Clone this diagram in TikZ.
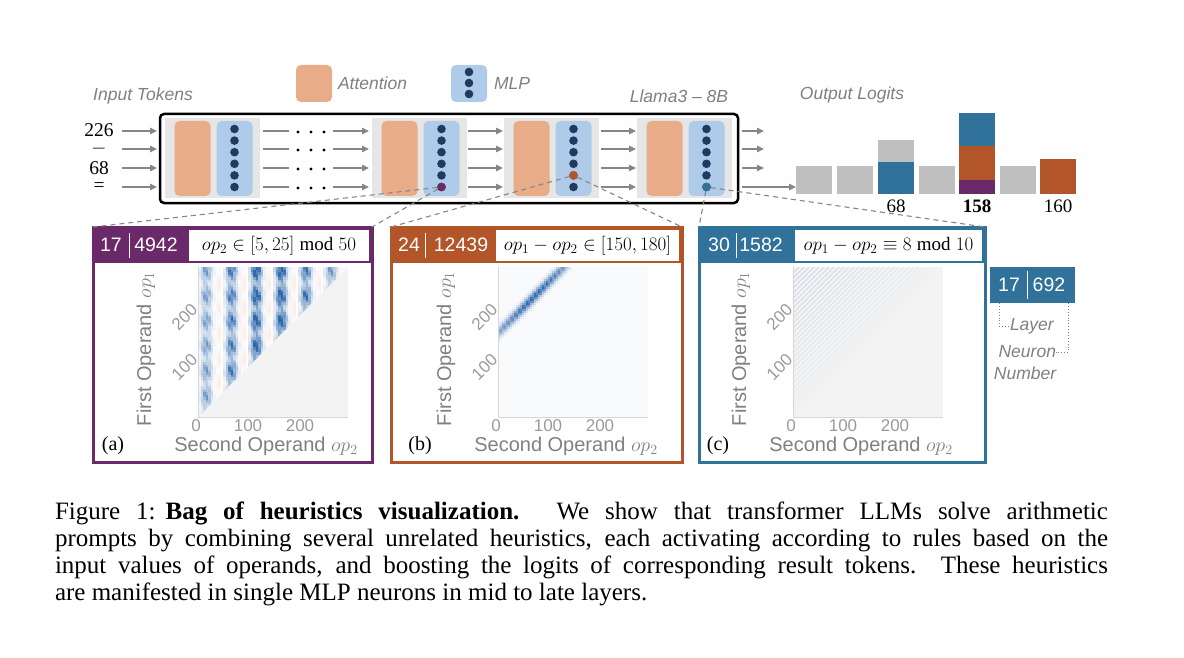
\RequirePackage{fix-cm}
\documentclass[tikz,border=0pt]{standalone}
\usepackage{fontspec}
\setmainfont{Liberation Serif}
\newfontfamily\arial{Liberation Sans}
\usetikzlibrary{arrows.meta,fit}
\definecolor{attn}{HTML}{E8AC88}
\definecolor{mlp}{HTML}{AFCBEA}
\definecolor{dotc}{HTML}{203A60}
\definecolor{blk}{HTML}{E6E6E6}
\definecolor{arr}{HTML}{868686}
\definecolor{lbl}{HTML}{808080}
\definecolor{tkc}{HTML}{9A9A9A}
\definecolor{pur}{HTML}{6A2A6A}
\definecolor{org}{HTML}{B25528}
\definecolor{blu}{HTML}{31729B}
\definecolor{barg}{HTML}{BFBFBF}
\definecolor{hmb}{RGB}{28,92,165}
\definecolor{hmo}{RGB}{235,160,130}
\definecolor{pgray}{HTML}{F3F3F3}
\definecolor{pbg}{HTML}{F9FAFB}
\definecolor{axc}{HTML}{D6D6D6}
\tikzset{
  bx/.style={inner sep=0pt, outer sep=0pt},
  lab/.style={bx, font=\arial\itshape\fontsize{17.5}{20}\selectfont, text=lbl},
  arw/.style={draw=arr, line width=1.4pt, -{Triangle[length=7pt,width=6.5pt]}},
  dsh/.style={draw=arr, line width=1.1pt, dash pattern=on 5pt off 4pt},
  tok/.style={bx, font=\fontsize{19.5}{22}\selectfont},
  outl/.style={bx, font=\fontsize{19}{22}\selectfont},
  hdr/.style={bx, text=white, font=\arial\fontsize{19.5}{22}\selectfont},
  fml/.style={bx, font=\fontsize{19}{22}\selectfont},
  tick/.style={bx, text=tkc, font=\arial\fontsize{17}{20}\selectfont},
  axl/.style={bx, text=lbl, font=\arial\fontsize{20}{24}\selectfont},
  plab/.style={bx, font=\fontsize{20}{24}\selectfont},
  capl/.style={bx, anchor=base west, font=\fontsize{25}{27}\selectfont},
  sep/.style={white, line width=0.8pt},
  brk/.style={lbl, dotted, line width=0.9pt}
}
\newcommand\layerblk[2]{%
  \node[bx, fill=blk, fit={(#2,118)(#2+95,198)}] (#1) {};
  \node[bx, fill=attn, rounded corners=5pt, fit={(#2+9.5,121)(#2+45.5,196)}] (#1a) {};
  \node[bx, fill=mlp, rounded corners=5pt, fit={(#2+51.5,121)(#2+87.5,196)}] (#1m) {};
  \foreach \i in {0,...,5} \fill[dotc] (#2+69.5,129+11.6*\i) circle[radius=4.3pt];
}
\newcommand\plotaxes[1]{%
  \draw[axc, line width=0.9pt] (#1,267) -- (#1,417) -- (#1+150,417);
  \node[tick] at (#1-2,426) {0};
  \node[tick] at (#1+50,426) {100};
  \node[tick] at (#1+102,426) {200};
  \node[tick, rotate=45] at (#1-13.5,367) {100};
  \node[tick, rotate=45] at (#1-13.5,317) {200};
  \node[axl, rotate=90] at (#1-52,349) {First Operand $op_1$};
  \node[axl] at (#1+68,446) {Second Operand $op_2$};
}
\newcommand\capline[1]{\hbox to 1053pt{#1}}
\begin{document}
\begin{tikzpicture}[x=1pt,y=-1pt]
\useasboundingbox (0,0) rectangle (1184,658);

% ---------- top labels and legend
\node[lab] (inlab) at (143,96) {Input Tokens};
\node[bx, fill=attn, rounded corners=5pt, fit={(296,65)(332,102)}] (legA) {};
\node[lab, anchor=west] (legAt) at (338,83) {Attention};
\node[bx, fill=mlp, rounded corners=5pt, fit={(451,65)(487,102)}] (legM) {};
\foreach \yy in {72,83,94} \fill[dotc] (469,\yy) circle[radius=4.3pt];
\node[lab, anchor=west] (legMt) at (494,83) {MLP};
\node[lab] (llama) at (679,96) {Llama3 – 8B};
\node[lab] (outlab) at (852,95) {Output Logits};

% ---------- model
\node[bx, draw=black, line width=2.5pt, rounded corners=4pt, fit={(160,114)(738,203)}] (llm) {};
\layerblk{L1}{165}
\layerblk{L2}{372}
\layerblk{L3}{504}
\layerblk{L4}{637}
\node[circle, bx, fill=pur, minimum size=8.6pt] (d2) at (441.5,187) {};
\node[circle, bx, fill=org, minimum size=8.6pt] (d3) at (573.5,175.4) {};
\node[circle, bx, fill=blu, minimum size=8.6pt] (d4) at (706.5,187) {};

% ---------- input tokens
\node[tok] (t1) at (99,130) {226};
\node[tok] (t2) at (99,149) {$-$};
\node[tok] (t3) at (99,168) {68};
\node[tok] (t4) at (99,187) {=};
\foreach \yy in {131,149,168,187} {
  \draw[arw] (122,\yy) -- (157,\yy);
  \draw[arr, line width=1.4pt] (263,\yy) -- (289,\yy);
  \foreach \xx in {298,311,324} \fill (\xx,\yy+1) circle[radius=1.6pt];
  \draw[arw] (333,\yy) -- (369,\yy);
  \draw[arw] (468,\yy) -- (503,\yy);
  \draw[arw] (601,\yy) -- (636,\yy);
}
\foreach \yy in {131,149,168} \draw[arw] (742,\yy) -- (764,\yy);

% ---------- output logits
\node[bx, fill=barg, fit={(796,166)(832,194)}] (b1) {};
\node[bx, fill=barg, fit={(837,166)(873,194)}] (b2) {};
\node[bx, fill=barg, fit={(878,140)(914,162)}] (b3g) {};
\node[bx, fill=blu, fit={(878,162)(914,194)}] (b3) {};
\node[bx, fill=barg, fit={(919,166)(955,194)}] (b4) {};
\node[bx, fill=pur, fit={(959,180)(995,194)}] (b5p) {};
\node[bx, fill=org, fit={(959,146)(995,180)}] (b5o) {};
\node[bx, fill=blu, fit={(959,113)(995,146)}] (b5b) {};
\node[bx, fill=barg, fit={(1000,166)(1036,194)}] (b6) {};
\node[bx, fill=org, fit={(1040,159)(1076,194)}] (b7) {};
\draw[arw] (742,187) -- (b1.west |- 0,187);
\node[outl] (o68) at (896,206) {68};
\node[outl] (o158) at (977,206) {\textbf{158}};
\node[outl] (o160) at (1058,206) {160};

% ---------- panel (a)
\fill[pur] (93,227) rectangle (372,263);
\node[bx, fill=white, fit={(189,230)(369,261)}] (fa) {};
\node[fml] at (fa) {$op_2 \in [5,25] \bmod 50$};
\node[hdr] (la) at (111,245) {17};
\node[hdr] (na) at (156,245) {4942};
\draw[sep] (129,233) -- (129,258);
\begin{scope}[shift={(198,417)}, x=0.5pt, y=0.5pt]
  \fill[white] (0,0) rectangle (300,300);
  \fill[pgray] (0,0) -- (300,0) -- (300,300) -- cycle;
  \begin{scope}
    \clip (0,0) -- (0,300) -- (300,300) -- cycle;
    \foreach \cx in {0,5,...,295}{\foreach \cy in {0,5,...,295}{
      \ifnum\numexpr\cy+5\relax>\cx\relax
        \pgfmathsetmacro\hmu{mod(\cx+2.5,50)}
        \pgfmathsetmacro\hmd{abs(\hmu-16)}
        \pgfmathsetmacro\hms{exp(0-((\hmd/11)^2))}
        \pgfmathsetmacro\hmm{0.45+0.55*(0.5+0.5*cos(7.2*(\cy-40)))}
        \pgfmathsetmacro\hmf{0.75+0.25*cos(1.2*(\cx-140))}
        \pgfmathsetmacro\hmr{0.8+0.2*sin(13*\cy+23*\cx)}
        \pgfmathtruncatemacro\hmI{min(92,135*\hms*\hmm*\hmr*\hmf)}
        \pgfmathsetmacro\hmod{abs(\hmu-41)}
        \pgfmathtruncatemacro\hmO{20*exp(0-((\hmod/5)^2))*(0.4+0.6*(0.5+0.5*cos(7.2*(\cy-15))))}
        \colorlet{tmpo}{hmo!\hmO!white}
        \fill[hmb!\hmI!tmpo] (\cx,\cy) rectangle +(5.3,5.3);
      \fi
    }}
  \end{scope}
\end{scope}
\plotaxes{198}
\node[plab] (pla) at (113,446) {(a)};
\node[bx, draw=pur, line width=3pt, fit={(93,227)(372,462)}] (pa) {};

% ---------- panel (b)
\fill[org] (391,227) rectangle (682,263);
\node[bx, fill=white, fit={(496,230)(679,261)}] (fb) {};
\node[fml] at (fb) {$op_1 - op_2 \in [150, 180]$};
\node[hdr] (lb) at (409,245) {24};
\node[hdr] (nb) at (461,245) {12439};
\draw[sep] (425,233) -- (425,258);
\begin{scope}[shift={(498,417)}, x=0.5pt, y=0.5pt]
  \fill[pbg] (0,0) rectangle (300,300);
  \begin{scope}
    \clip (0,0) rectangle (300,300);
    \foreach \cx in {0,4,...,296}{\foreach \cy in {100,104,...,296}{
      \pgfmathtruncatemacro\hmt{\cy-\cx-168}
      \ifnum\hmt>-36 \ifnum\hmt<36
        \pgfmathtruncatemacro\hmI{min(90,100*exp(0-((\hmt/12)^2))*(0.45+0.55*exp(0-(((\cx-70)/60)^2)))*(0.85+0.15*sin(17*\cy+29*\cx)))}
        \fill[hmb!\hmI!pbg] (\cx,\cy) rectangle +(4.3,4.3);
      \fi\fi
    }}
  \end{scope}
\end{scope}
\plotaxes{498}
\node[plab] (plb) at (420,446) {(b)};
\node[bx, draw=org, line width=3pt, fit={(391,227)(682,462)}] (pb) {};

% ---------- panel (c)
\fill[blu] (699,227) rectangle (985,263);
\node[bx, fill=white, fit={(795,230)(982,261)}] (fc) {};
\node[fml] at (fc) {$op_1 - op_2 \equiv 8 \bmod 10$};
\node[hdr] (lc) at (719,245) {30};
\node[hdr] (nc) at (761,245) {1582};
\draw[sep] (736,233) -- (736,258);
\begin{scope}[shift={(793,417)}, x=0.5pt, y=0.5pt]
  \fill[pgray] (0,0) rectangle (300,300);
  \foreach \k in {0,...,29}{
    \pgfmathsetmacro\hmd{8+10*\k}
    \pgfmathsetmacro\hmop{0.03+0.22*\hmd/300}
    \draw[hmb, opacity=\hmop, line width=0.7pt] (0,\hmd) -- ({300-\hmd},300);
  }
\end{scope}
\plotaxes{793}
\node[plab] (plc) at (718,446) {(c)};
\node[bx, draw=blu, line width=3pt, fit={(699,227)(985,462)}] (pc) {};

% ---------- dashed zoom lines
\draw[dsh] (d2) -- (pa.north west);
\draw[dsh] (d2) -- (pa.north east);
\draw[dsh] (d3) -- (pb.north west);
\draw[dsh] (d3) -- (pb.north east);
\draw[dsh] (d4) -- (pc.north west);
\draw[dsh] (d4) -- (pc.north east);

% ---------- legend layer|neuron
\node[bx, fill=blu, fit={(990,267)(1075,303)}] (leg) {};
\node[hdr] (legl) at (1009,285) {17};
\node[hdr] (legn) at (1049,285) {692};
\draw[sep] (1027,271) -- (1027,299);
\node[lab, anchor=west] (lay) at (1010,326) {Layer};
\node[lab, anchor=east] (neu) at (1056,352) {Neuron};
\node[lab] (num) at (1025,373) {Number};
\draw[brk] (leg.south west -| 999,0) -- (999,326) -- (lay.west);
\draw[brk] (leg.south east -| 1068,0) -- (1068,352) -- (neu.east);

% ---------- caption
\node[capl] (cap1) at (55,519) {\capline{Figure 1:\hspace{0.4em}\textbf{Bag of heuristics visualization.} We show that transformer LLMs solve arithmetic}};
\node[capl] (cap2) at (55,546) {\capline{prompts by combining several unrelated heuristics, each activating according to rules based on the}};
\node[capl] (cap3) at (55,573) {\capline{input values of operands, and boosting the logits of corresponding result tokens. These heuristics}};
\node[capl] (cap4) at (55,600) {are manifested in single MLP neurons in mid to late layers.};
\end{tikzpicture}
\end{document}
